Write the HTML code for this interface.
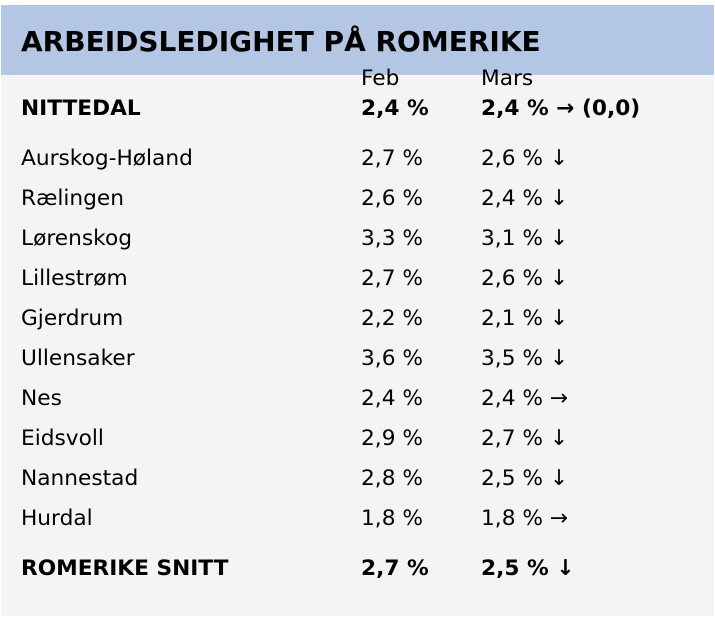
<!DOCTYPE html>
<html><head><meta charset="utf-8"><style>
body{margin:0;width:715px;height:617px;background:#fff;position:relative;overflow:hidden;font-family:"DejaVu Sans","Liberation Sans",sans-serif;color:#000}
#panel{position:absolute;left:1px;top:5px;width:713px;height:611px;background:#f4f4f4}
#hdr{position:absolute;left:1px;top:5px;width:713px;height:70px;background:#b3c7e5}
.t{position:absolute;font-size:21.7px;line-height:24px;white-space:nowrap}
.b{font-weight:bold}
#title{position:absolute;left:21px;top:25px;font-size:28px;line-height:34px;font-weight:bold}
</style></head><body>
<div id="panel"></div><div id="hdr"></div>
<div id="title">ARBEIDSLEDIGHET PÅ ROMERIKE</div>
<div class="t" style="left:361px;top:67px">Feb</div>
<div class="t" style="left:481px;top:67px">Mars</div>

<div class="t b" style="left:21px;top:97px">NITTEDAL</div>
<div class="t b" style="left:361px;top:97px">2,4 %</div>
<div class="t b" style="left:481px;top:97px">2,4 % → (0,0)</div>

<div class="t" style="left:21px;top:147px">Aurskog-Høland</div><div class="t" style="left:361px;top:147px">2,7 %</div><div class="t" style="left:481px;top:147px">2,6 % ↓</div>
<div class="t" style="left:21px;top:187px">Rælingen</div><div class="t" style="left:361px;top:187px">2,6 %</div><div class="t" style="left:481px;top:187px">2,4 % ↓</div>
<div class="t" style="left:21px;top:227px">Lørenskog</div><div class="t" style="left:361px;top:227px">3,3 %</div><div class="t" style="left:481px;top:227px">3,1 % ↓</div>
<div class="t" style="left:21px;top:267px">Lillestrøm</div><div class="t" style="left:361px;top:267px">2,7 %</div><div class="t" style="left:481px;top:267px">2,6 % ↓</div>
<div class="t" style="left:21px;top:307px">Gjerdrum</div><div class="t" style="left:361px;top:307px">2,2 %</div><div class="t" style="left:481px;top:307px">2,1 % ↓</div>
<div class="t" style="left:21px;top:347px">Ullensaker</div><div class="t" style="left:361px;top:347px">3,6 %</div><div class="t" style="left:481px;top:347px">3,5 % ↓</div>
<div class="t" style="left:21px;top:387px">Nes</div><div class="t" style="left:361px;top:387px">2,4 %</div><div class="t" style="left:481px;top:387px">2,4 % →</div>
<div class="t" style="left:21px;top:427px">Eidsvoll</div><div class="t" style="left:361px;top:427px">2,9 %</div><div class="t" style="left:481px;top:427px">2,7 % ↓</div>
<div class="t" style="left:21px;top:467px">Nannestad</div><div class="t" style="left:361px;top:467px">2,8 %</div><div class="t" style="left:481px;top:467px">2,5 % ↓</div>
<div class="t" style="left:21px;top:507px">Hurdal</div><div class="t" style="left:361px;top:507px">1,8 %</div><div class="t" style="left:481px;top:507px">1,8 % →</div>

<div class="t b" style="left:21px;top:557px">ROMERIKE SNITT</div>
<div class="t b" style="left:361px;top:557px">2,7 %</div>
<div class="t b" style="left:481px;top:557px">2,5 % ↓</div>
</body></html>
